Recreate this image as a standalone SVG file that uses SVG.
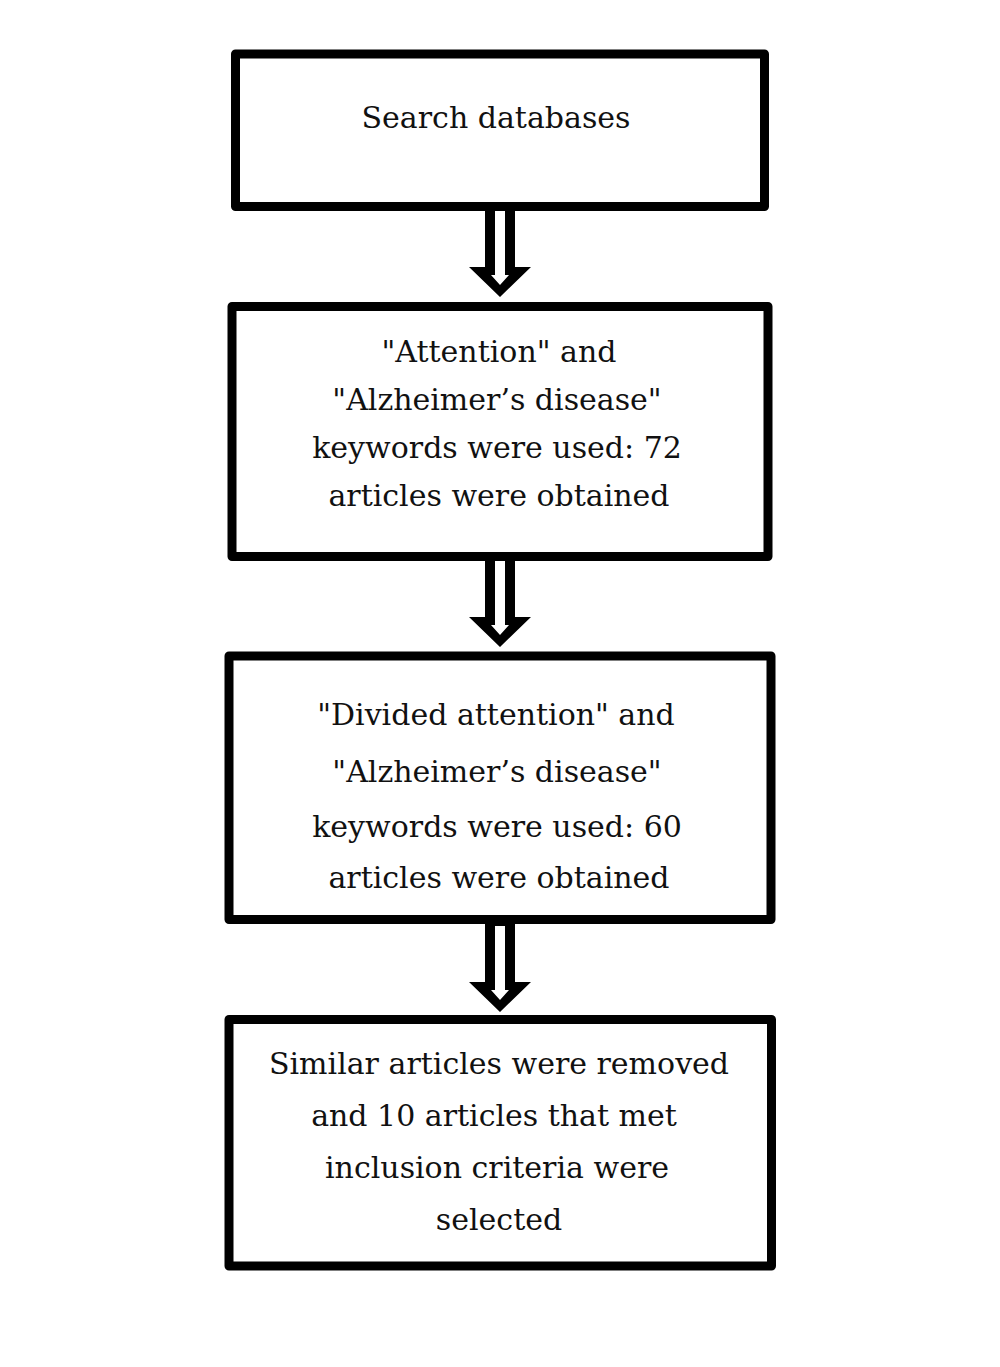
<svg xmlns="http://www.w3.org/2000/svg" xmlns:xlink="http://www.w3.org/1999/xlink" width="1000" height="1367" viewBox="0 0 1000 1367">
<style>
.box{fill:#fff;stroke:#000;stroke-width:9;stroke-linejoin:round}
.t{font-family:"DejaVu Serif","Liberation Serif",serif;font-size:30px;fill:#111;text-anchor:middle}
</style>
<defs>
<g id="arrow">
<path d="M-15,-95 H15 V-30 H31 L0,0 L-31,-30 H-15 Z" fill="#000"/>
<path d="M-5,-86 H5 V-22 H9 L0,-12 L-9,-22 H-5 Z" fill="#fff"/>
</g>
</defs>
<rect width="1000" height="1367" fill="#fff"/>
<g id="connectors">
<use xlink:href="#arrow" transform="translate(500,297)"/>
<use xlink:href="#arrow" transform="translate(500,647)"/>
<use xlink:href="#arrow" transform="translate(500,1012)"/>
</g>
<g id="node1">
<rect class="box" x="235.5" y="54" width="529" height="152.5"/>
<text class="t" x="496" y="128">Search databases</text>
</g>
<g id="node2">
<rect class="box" x="232" y="306.5" width="536" height="250"/>
<text class="t" x="499" y="362">"Attention" and</text>
<text class="t" x="497" y="410">"Alzheimer’s disease"</text>
<text class="t" x="497" y="458">keywords were used: 72</text>
<text class="t" x="499" y="506">articles were obtained</text>
</g>
<g id="node3">
<rect class="box" x="229" y="656" width="542" height="263.5"/>
<text class="t" x="496" y="725">"Divided attention" and</text>
<text class="t" x="497" y="782">"Alzheimer’s disease"</text>
<text class="t" x="497" y="837">keywords were used: 60</text>
<text class="t" x="499" y="888">articles were obtained</text>
</g>
<g id="node4">
<rect class="box" x="229" y="1019.5" width="542.5" height="246.5"/>
<text class="t" x="499" y="1074">Similar articles were removed</text>
<text class="t" x="494" y="1126">and 10 articles that met</text>
<text class="t" x="497" y="1178">inclusion criteria were</text>
<text class="t" x="499" y="1230">selected</text>
</g>
</svg>
